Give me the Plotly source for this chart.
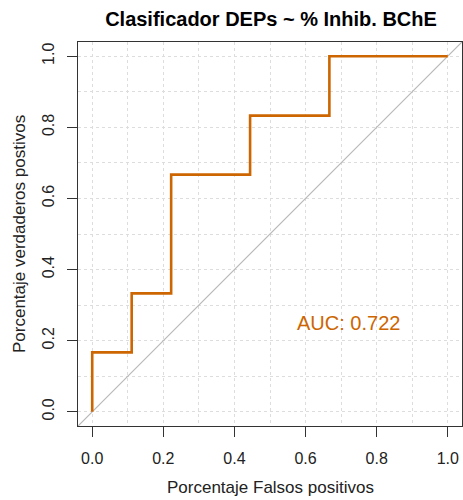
import plotly.graph_objects as go

# ROC curve data
fpr = [0.0, 0.0, 0.111, 0.111, 0.222, 0.222, 0.444, 0.444, 0.667, 0.667, 1.0]
tpr = [0.0, 0.167, 0.167, 0.333, 0.333, 0.667, 0.667, 0.833, 0.833, 1.0, 1.0]
diag_x = [-0.04, 1.04]
diag_y = [-0.04, 1.04]
auc_label = "AUC: 0.722"
auc_pos = [0.72, 0.25]
tick_vals = [0.0, 0.2, 0.4, 0.6, 0.8, 1.0]
tick_text = ["0.0", "0.2", "0.4", "0.6", "0.8", "1.0"]

ORANGE = "#CD6600"
FONT = "Liberation Sans, Arial, sans-serif"

fig = go.Figure()
fig.add_trace(go.Scatter(x=diag_x, y=diag_y, mode="lines",
                         line=dict(color="#B8B8B8", width=1.2), hoverinfo="skip"))
fig.add_trace(go.Scatter(x=fpr, y=tpr, mode="lines",
                         line=dict(color=ORANGE, width=2.6)))

fig.add_annotation(x=auc_pos[0], y=auc_pos[1], text=auc_label, showarrow=False,
                   xanchor="center", yanchor="middle",
                   font=dict(family=FONT, size=20, color=ORANGE))

axis_common = dict(
    range=[-0.04, 1.04], tickvals=tick_vals, ticktext=tick_text,
    ticks="outside", ticklen=10, tickcolor="#333333", tickwidth=1,
    showline=True, linecolor="#333333", linewidth=1, mirror=True,
    showgrid=True, gridcolor="#DDDDDD", griddash="dot", gridwidth=1,
    zeroline=False,
    tickfont=dict(family=FONT, size=16, color="#222222"),
    minor=dict(dtick=0.1, tick0=0, showgrid=True, gridcolor="#DDDDDD",
               griddash="dot", gridwidth=1, ticks=""),
)

fig.update_layout(
    width=463, height=500,
    margin=dict(l=78, r=1, t=42, b=74),
    plot_bgcolor="white", paper_bgcolor="white",
    showlegend=False,
    title=dict(text="<b>Clasificador DEPs ~ % Inhib. BChE</b>",
               x=271 / 463, xanchor="center", y=1 - 19 / 500, yanchor="middle",
               font=dict(family=FONT, size=20, color="#000000")),
    xaxis=dict(axis_common, ticklabelstandoff=8),
    yaxis=dict(axis_common, tickangle=-90, ticklabelstandoff=7),
)

fig.add_annotation(xref="paper", yref="paper", x=0.5, y=0, yshift=-61,
                   xanchor="center", yanchor="middle",
                   text="Porcentaje Falsos positivos", showarrow=False,
                   font=dict(family=FONT, size=17, color="#222222"))
fig.add_annotation(xref="paper", yref="paper", x=0, y=0.5, xshift=-59,
                   xanchor="center", yanchor="middle",
                   text="Porcentaje verdaderos postivos", showarrow=False, textangle=-90,
                   font=dict(family=FONT, size=17, color="#222222"))

fig.write_html("out.html")
